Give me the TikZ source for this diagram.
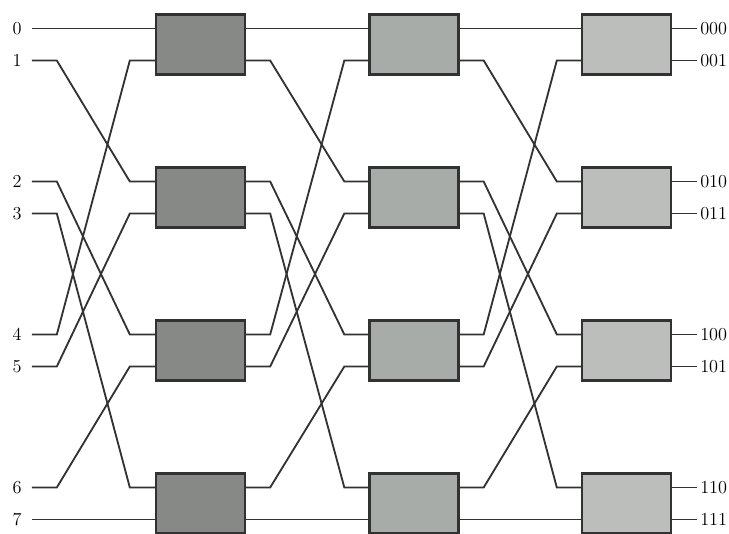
\documentclass[tikz,border=0pt]{standalone}
\usetikzlibrary{positioning,calc}
\definecolor{swdark}{RGB}{134,137,134}
\definecolor{swmid}{RGB}{168,172,168}
\definecolor{swlight}{RGB}{187,190,187}
\definecolor{wirecol}{RGB}{50,50,50}
\tikzset{
  switchbox/.style={draw=wirecol,line width=1.8pt,minimum width=2.22cm,minimum height=1.5cm,inner sep=0pt},
  wire/.style={draw=wirecol,line width=1.3pt},
  lbl/.style={font=\fontsize{13}{15}\selectfont,inner sep=0pt}
}

\begin{document}
\begin{tikzpicture}[x=0.025cm,y=-0.025cm]
    \useasboundingbox (0,0) rectangle (729,533);
    % Switch boxes: three stages, four rows each
    \foreach \s/\x/\c in {1/200.5/swdark,2/414/swmid,3/626.5/swlight}
      \foreach \r in {0,1,2,3}
        \node[switchbox,fill=\c] (sw\s\r) at (\x,{44.5+153*\r}) {};
    % Ports of each box
    \foreach \s in {1,2,3}
      \foreach \r in {0,1,2,3} {
        \pgfmathtruncatemacro\pa{2*\r}
        \pgfmathtruncatemacro\pb{2*\r+1}
        \coordinate (in\s-\pa) at ($(sw\s\r.west)+(0,-16)$);
        \coordinate (in\s-\pb) at ($(sw\s\r.west)+(0,16)$);
        \coordinate (out\s-\pa) at ($(sw\s\r.east)+(0,-16)$);
        \coordinate (out\s-\pb) at ($(sw\s\r.east)+(0,16)$);
      }
    % Inputs 0..7, perfect shuffle into stage 1
    \foreach \p in {0,...,7} {
      \coordinate (src\p) at ($(in1-\p)+(-123,0)$);
      \node[lbl,left=7pt of src\p] (lab\p) {\p};
      \pgfmathtruncatemacro\d{\p<4 ? 2*\p : 2*\p-7}
      \draw[wire] (src\p) -- ++(25,0) -- ($(in1-\d)+(-25,0)$) -- (in1-\d);
    }
    % Shuffle between stages
    \foreach \s/\t in {1/2,2/3}
      \foreach \p in {0,...,7} {
        \pgfmathtruncatemacro\d{\p<4 ? 2*\p : 2*\p-7}
        \draw[wire] (out\s-\p) -- ++(24,0) -- ($(in\t-\d)+(-24,0)$) -- (in\t-\d);
      }
    % Outputs
    \foreach \p/\b in {0/000,1/001,2/010,3/011,4/100,5/101,6/110,7/111} {
      \coordinate (dst\p) at ($(out3-\p)+(25,0)$);
      \draw[wire] (out3-\p) -- (dst\p);
      \node[lbl,right=2pt of dst\p] (olab\p) {\b};
    }
\end{tikzpicture}
\end{document}
